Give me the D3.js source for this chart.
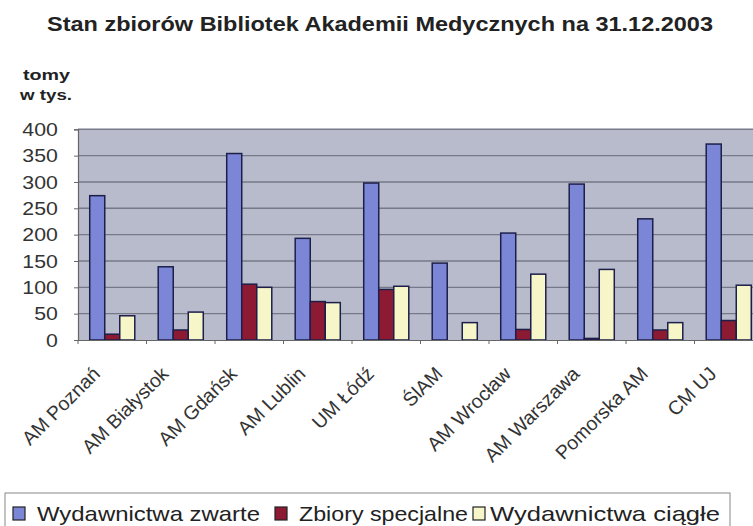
<!DOCTYPE html>
<html><head><meta charset="utf-8">
<script src="https://cdn.jsdelivr.net/npm/d3@7"></script>
<style>body{margin:0;background:#fff;} text{font-family:"Liberation Sans",Arial,sans-serif;}</style>
</head><body>
<svg id="c" width="753" height="526"></svg>
<script>
const categories = ["AM Poznań","AM Białystok","AM Gdańsk","AM Lublin","UM Łódź","ŚlAM","AM Wrocław","AM Warszawa","Pomorska AM","CM UJ"];
const seriesNames = ["Wydawnictwa zwarte","Zbiory specjalne","Wydawnictwa ciągłe"];
const zwarte   = [274,139,354,193,298,146,203,296,230,372];
const specjalne= [11,19,106,73,96,0,20,3,19,37];
const ciagle   = [46,53,100,71,102,33,125,134,33,104];
const yTicks = [0,50,100,150,200,250,300,350,400];
const colors = ["#7b86d6","#8c1a33","#f6f6c8"];

const svg = d3.select("#c");
const L=78, R=763, T=129.3, B=340;
const x0 = d3.scaleBand().domain(categories).range([L,R]).padding(0);
const x1 = d3.scaleBand().domain(seriesNames).range([0,x0.bandwidth()]).paddingInner(0).paddingOuter(0.78);
const y = d3.scaleLinear().domain([0,400]).range([B,T]);

// title
svg.append("text").attr("x",47).attr("y",31).attr("font-size",20).attr("font-weight","bold")
  .attr("fill","#222").attr("textLength",666).attr("lengthAdjust","spacingAndGlyphs")
  .text("Stan zbiorów Bibliotek Akademii Medycznych na 31.12.2003");
svg.append("text").attr("x",23).attr("y",80).attr("font-size",15).attr("font-weight","bold").attr("fill","#222")
  .attr("textLength",47).attr("lengthAdjust","spacingAndGlyphs").text("tomy");
svg.append("text").attr("x",20).attr("y",100).attr("font-size",15).attr("font-weight","bold").attr("fill","#222")
  .attr("textLength",52).attr("lengthAdjust","spacingAndGlyphs").text("w tys.");

// plot bg
svg.append("rect").attr("x",L).attr("y",T).attr("width",R-L).attr("height",B-T).attr("fill","#b7bbcb");
// gridlines
svg.append("g").selectAll("line").data(yTicks.filter(d=>d>0)).join("line")
  .attr("x1",L).attr("x2",R).attr("y1",d=>y(d)).attr("y2",d=>y(d))
  .attr("stroke","#767987").attr("stroke-width",1.4);

// bars
const data = [zwarte,specjalne,ciagle];
const g = svg.append("g");
categories.forEach((c,i)=>{
  seriesNames.forEach((s,j)=>{
    const v = data[j][i];
    if(v<=0) return;
    g.append("rect").attr("x",x0(c)+x1(s)).attr("y",y(v)).attr("width",x1.bandwidth()).attr("height",y(0)-y(v))
      .attr("fill",colors[j]).attr("stroke","#1d1f4a").attr("stroke-width",1.5);
  });
});

// y axis
const ya = svg.append("g").attr("transform",`translate(${L},0)`)
  .call(d3.axisLeft(y).tickValues(yTicks).tickSize(4).tickPadding(12));
ya.select(".domain").attr("stroke","#666").attr("stroke-width",1.2);
ya.selectAll(".tick line").attr("stroke","#666");
ya.selectAll("text").attr("font-size",19).attr("fill","#333").attr("font-family","Liberation Sans, Arial, sans-serif")
  .attr("transform","scale(1.12,1)").attr("dx",-2);

// x axis
const xa = svg.append("g").attr("transform",`translate(0,${B})`)
  .call(d3.axisBottom(x0).tickSize(0).tickFormat(""));
xa.select(".domain").attr("stroke","#666").attr("stroke-width",1.2);
svg.append("g").selectAll("line").data(categories).join("line")
  .attr("x1",d=>x0(d)).attr("x2",d=>x0(d)).attr("y1",B).attr("y2",B+4).attr("stroke","#666");

svg.append("g").selectAll("text").data(categories).join("text")
  .attr("transform",d=>`translate(${x0(d)+x0.bandwidth()/2-11},${B+35}) rotate(-45)`)
  .attr("text-anchor","end").attr("font-size",19.5).attr("fill","#333")
  .text(d=>d);

// legend
svg.append("rect").attr("x",5).attr("y",493).attr("width",725).attr("height",40)
  .attr("fill","#fff").attr("stroke","#888").attr("stroke-width",1);
const legItems = [
  {sq:13, tx:37, w:223},
  {sq:275, tx:299, w:169},
  {sq:473, tx:490, w:230}
];
seriesNames.forEach((s,j)=>{
  const it = legItems[j];
  svg.append("rect").attr("x",it.sq).attr("y",507).attr("width",12).attr("height",13)
    .attr("fill",colors[j]).attr("stroke","#222").attr("stroke-width",1.2);
  svg.append("text").attr("x",it.tx).attr("y",521).attr("font-size",21).attr("fill","#222")
    .attr("textLength",it.w).attr("lengthAdjust","spacingAndGlyphs").text(s);
});
</script>
</body></html>
